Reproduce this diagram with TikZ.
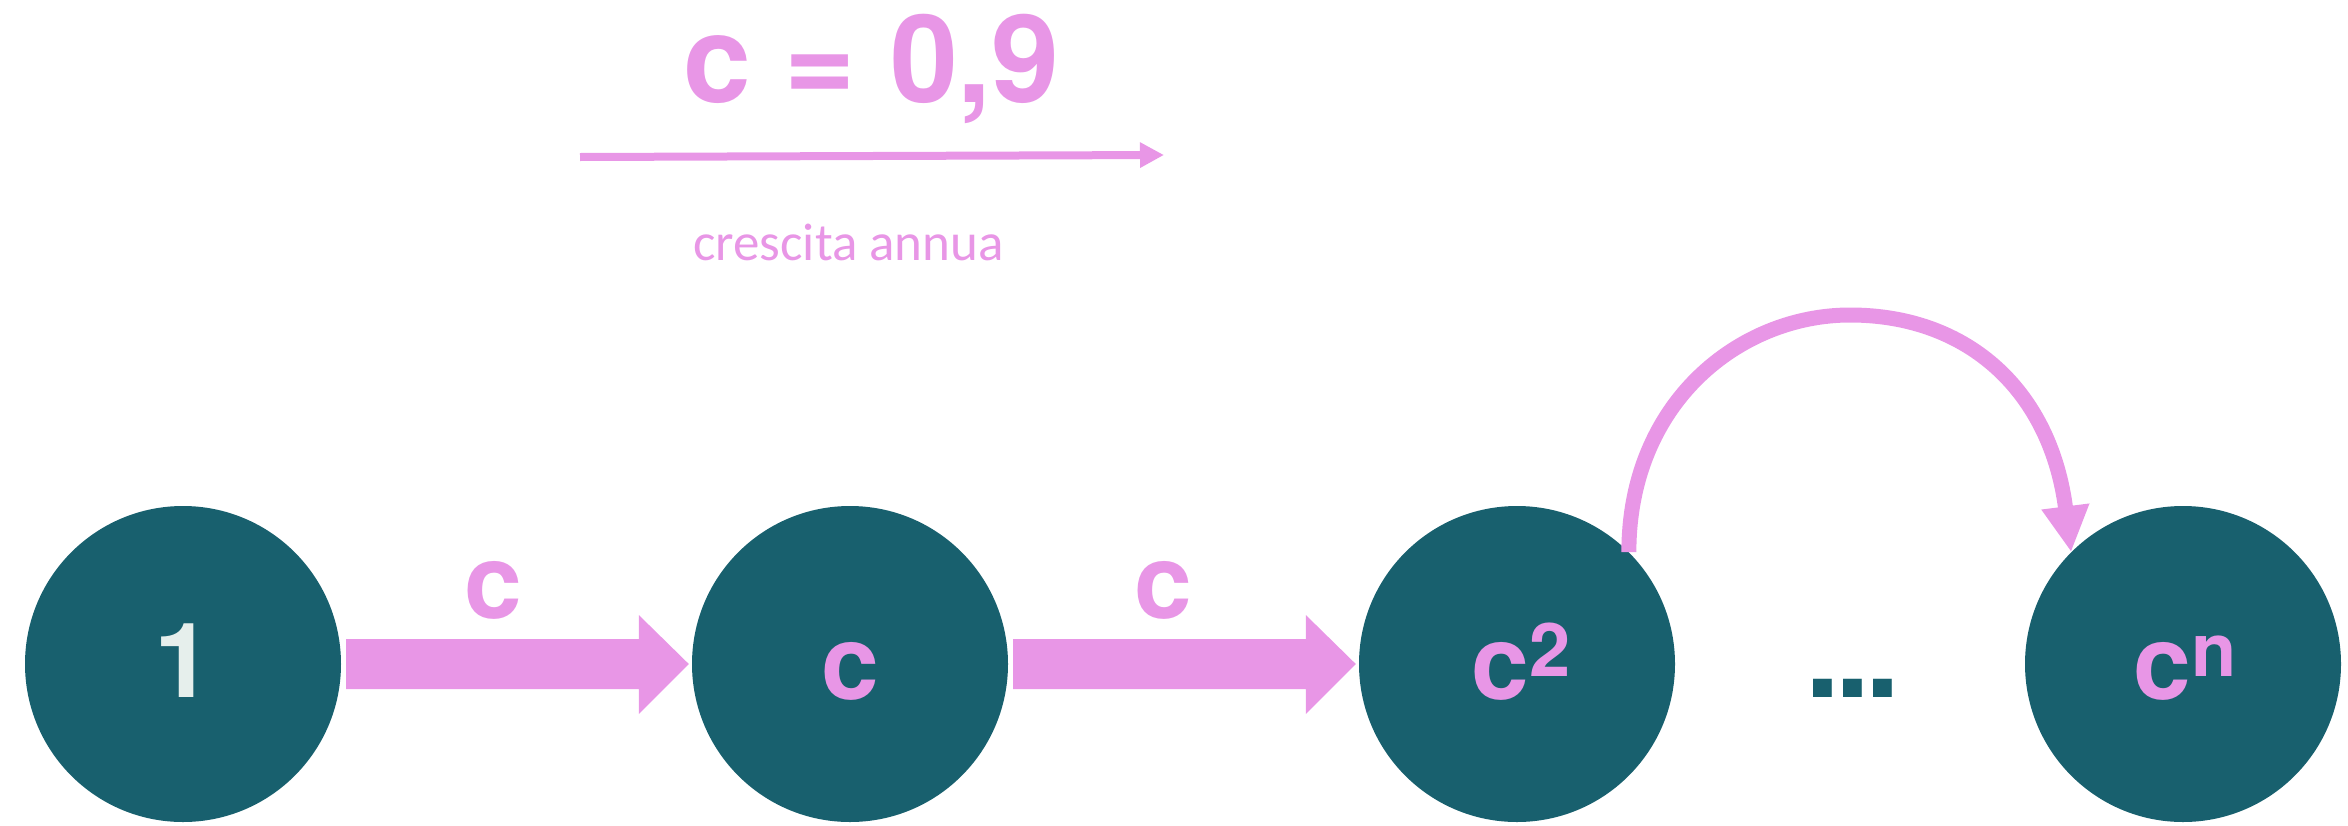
\documentclass[tikz,border=0pt]{standalone}
\usepackage{fontspec}
\newfontfamily\heros{TeX Gyre Heros}
\newfontfamily\calib{Carlito}
\usetikzlibrary{arrows.meta,calc}
\definecolor{tealc}{RGB}{24,96,110}
\definecolor{pinkc}{RGB}{232,150,230}
\definecolor{onec}{RGB}{230,239,236}
\begin{document}
\begin{tikzpicture}[x=1pt,y=-1pt,
  circ/.style={circle,fill=tealc,minimum size=316pt,inner sep=0pt},
  lbl/.style={font=\heros\bfseries\fontsize{104}{110}\selectfont,text=pinkc,inner sep=0pt,anchor=base},
  blockarrow/.style={fill=pinkc},
  thinarrow/.style={draw=pinkc,line width=8pt,-{Triangle[length=24pt,width=24pt]}},
  curvearrow/.style={draw=pinkc,line width=15pt,-{Triangle[length=46pt,width=45pt]}}
]
\useasboundingbox (0,0) rectangle (2348,825);

% top
\node[anchor=base west,font=\heros\bfseries\fontsize{122}{128}\selectfont,text=pinkc,inner sep=0pt] (title) at (683,102) {c = 0,9};
\coordinate (ls) at (580,157);
\coordinate (le) at (1164,155);
\draw[thinarrow] (ls) -- (le);
\node[anchor=base west,font=\calib\fontsize{53}{58}\selectfont,text=pinkc,inner sep=0pt] (sub) at (693,260) {crescita annua};

% circles
\node[circ] (n1) at (183,664) {};
\node[circ] (n2) at (850,664) {};
\node[circ] (n3) at (1517,664) {};
\node[circ] (n4) at (2183,664) {};

% texts in circles
\node[lbl,text=onec] (t1) at ($(n1)+(0,33)$) {1};
\node[lbl] (t2) at ($(n2)+(0,35)$) {c};
\node[lbl] (t3) at ($(n3)+(4,35)$) {c\raisebox{23pt}{\heros\bfseries\fontsize{74}{74}\selectfont 2}};
\node[lbl] (t4) at ($(n4)+(2,35)$) {c\raisebox{23pt}{\heros\bfseries\fontsize{74}{74}\selectfont n}};

% block arrows
\fill[blockarrow] ($(n1.east)+(5,-25)$) -- ($(n2.west)+(-53,-25)$) -- ($(n2.west)+(-53,-49)$) -- ($(n2.west)+(-3,0)$) -- ($(n2.west)+(-53,50)$) -- ($(n2.west)+(-53,25)$) -- ($(n1.east)+(5,25)$) -- cycle;
\fill[blockarrow] ($(n2.east)+(5,-25)$) -- ($(n3.west)+(-53,-25)$) -- ($(n3.west)+(-53,-49)$) -- ($(n3.west)+(-3,0)$) -- ($(n3.west)+(-53,50)$) -- ($(n3.west)+(-53,25)$) -- ($(n2.east)+(5,25)$) -- cycle;
\node[lbl] (a1) at ($(n1.east)!0.5!(n2.west)+(-23,-46)$) {c};
\node[lbl] (a2) at ($(n2.east)!0.5!(n3.west)+(-20,-46)$) {c};

% dots
\node[anchor=base,font=\heros\bfseries\fontsize{125}{130}\selectfont,text=tealc,inner sep=0pt] (dots) at ($(n3)!0.5!(n4)+(3,33)$) {.\kern-5pt.\kern-5pt.};

% curved arrow
\coordinate (top) at (1850,315);
\draw[curvearrow] (n3.45) .. controls +(0,-150) and (1740,315) .. (top) .. controls (1970,315) and (2051,393) .. (n4.135);
\end{tikzpicture}
\end{document}
